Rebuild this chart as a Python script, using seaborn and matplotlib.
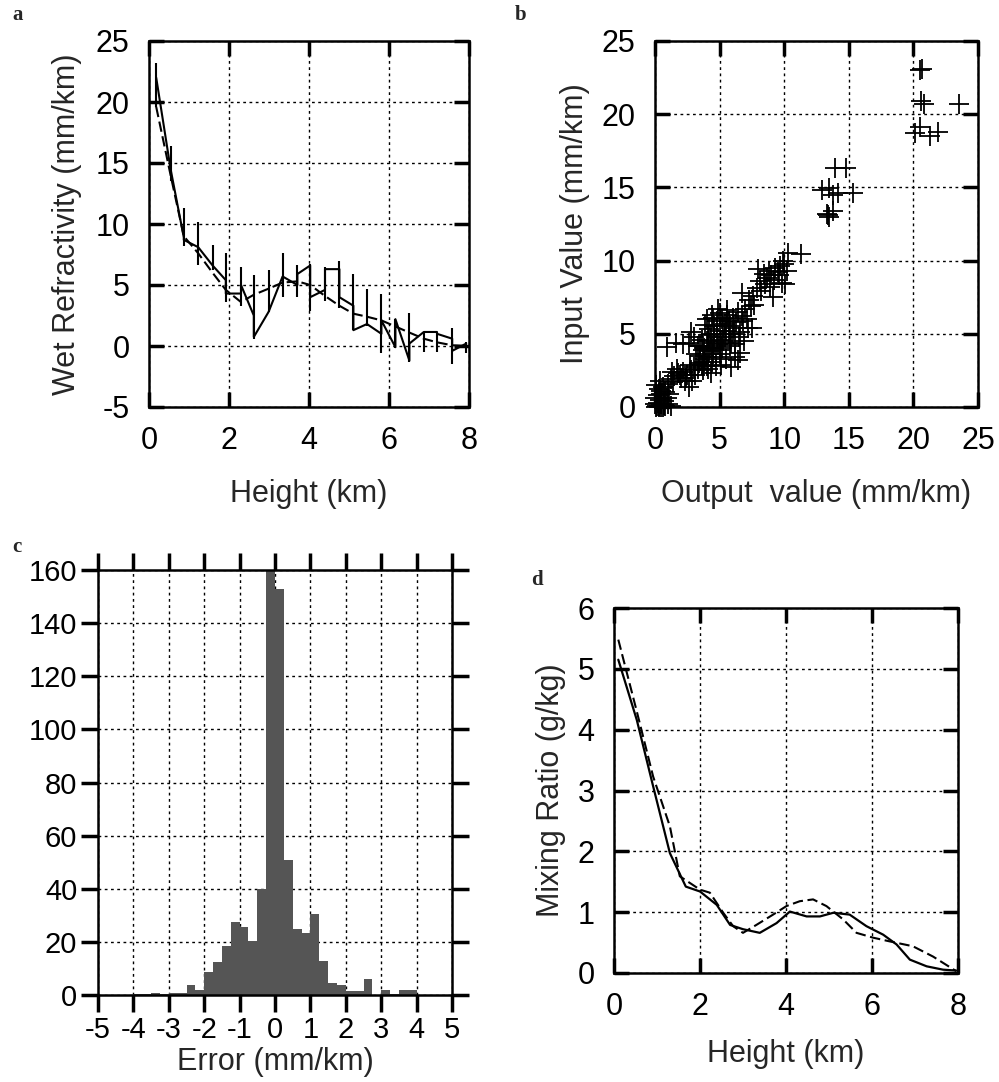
import numpy as np
import pandas as pd
import matplotlib
matplotlib.use("Agg")
import matplotlib.pyplot as plt
import seaborn as sns

# ---- panel a: wet refractivity profile ----
a_height = [0.18, 0.54, 0.87, 1.23, 1.59, 1.92, 2.30, 2.62, 2.99, 3.34, 3.71, 4.03,
            4.40, 4.76, 5.11, 5.45, 5.81, 6.16, 6.51, 6.87, 7.20, 7.58, 7.93]
a_ret_in = [22.0, 14.5, 8.9, 8.1, 6.6, 5.4, 4.3, 2.5, 2.8, 5.7, 5.0, 6.6,
            4.6, 6.3, 3.3, 1.8, 1.0, -0.1, -1.2, 1.15, 1.15, 0.6, 0.2]
a_ret_out = [22.0, 14.5, 8.7, 8.1, 6.6, 4.3, 5.0, 0.74, 2.8, 5.7, 5.9, 4.0,
             6.3, 4.0, 1.3, 1.8, 2.1, 2.2, 0.2, 1.15, 1.0, -0.4, 0.2]
a_err_lo = [19.6, 13.5, 8.2, 6.6, 6.2, 3.6, 3.3, 0.6, 2.8, 4.0, 4.0, 2.9,
            3.7, 3.1, 1.3, 1.6, -0.6, -0.2, -1.3, -0.5, -0.5, -1.5, -0.6]
a_err_hi = [23.2, 16.4, 11.3, 10.2, 8.3, 7.6, 6.5, 5.8, 6.2, 7.6, 6.65, 6.7,
            6.5, 7.0, 5.9, 4.7, 4.3, 2.2, 2.7, 1.15, 1.15, 1.5, 0.33]
a_true = [19.6, 14.0, 9.0, 7.6, 6.0, 4.6, 3.6, 4.2, 4.7, 5.2, 5.3, 5.0,
          4.1, 3.3, 2.65, 2.4, 2.1, 1.6, 1.1, 0.6, 0.3, 0.06, 0.0]

# ---- panel b: input vs output scatter ----
b_output = [0.1, 0.2, 0.3, 0.4, 0.5, 0.6, 0.7, 0.8, 0.2, 0.3, 0.1, 0.5, 0.9, 1.0, 1.2, 0.4,
            0.6, 1.1, 0.0, 0.3, 0.0, 0.15, 0.45, 0.7,
            1.2, 1.5, 1.8, 2.0, 2.2, 2.5, 2.8, 3.0, 3.3, 3.6, 1.0, 1.4, 2.6, 2.9, 3.1, 3.8,
            4.0, 1.7, 2.3,
            0.9, 1.6, 2.2, 2.6, 3.0, 3.3, 2.8,
            3.5, 3.8, 4.0, 4.2, 4.3, 4.5, 4.6, 4.8, 5.0, 5.0, 5.2, 5.3, 5.4, 5.5, 5.6, 5.7,
            5.8, 6.0, 6.1, 6.2, 6.4, 6.5, 6.6, 6.8, 7.0, 7.2, 7.5, 4.1, 4.4, 4.7, 3.9, 4.4,
            4.9, 5.1, 5.9, 6.4, 4.5, 5.2, 4.0, 3.7, 4.8, 5.5, 6.3, 4.2, 4.6, 5.4, 5.8, 3.6,
            4.3, 5.0, 6.7, 6.9,
            3.4, 3.9, 4.1, 4.6, 4.9, 5.3, 5.6, 6.0, 4.3, 4.7, 5.1, 5.7, 3.7, 4.5, 5.9, 6.2,
            2.4, 2.7, 3.2, 3.5, 1.9, 1.3, 0.8, 0.5, 5.0, 6.6, 7.1, 4.0,
            6.7, 7.3, 7.6, 7.9, 8.2, 8.0, 8.5, 8.7, 8.9, 9.0, 9.2, 9.3, 9.5, 9.7, 9.8, 10.0,
            10.2, 10.3, 11.3, 9.1, 7.7, 8.4, 9.9, 10.1, 7.4, 8.1, 8.8, 9.6,
            13.9, 14.8, 12.9, 13.5, 13.8, 14.2, 15.3, 13.3, 13.5, 13.8, 13.4,
            20.5, 20.7, 20.6, 20.8, 23.5, 20.1, 20.5, 21.3, 21.9]
b_input = [0.0, 0.3, 0.1, 0.5, 0.2, 0.0, 0.4, 0.1, 0.8, 1.2, 1.5, 0.9, 0.6, 0.2, 0.1, 1.8,
           1.4, 0.9, 0.6, 0.0, 0.2, 0.05, 0.0, 0.15,
           1.9, 2.1, 2.3, 2.0, 2.4, 2.2, 2.5, 2.7, 2.6, 2.9, 1.6, 1.7, 1.4, 1.8, 2.2, 3.1,
           2.8, 2.6, 1.8,
           4.1, 4.4, 4.3, 4.4, 4.8, 4.2, 5.1,
           3.5, 4.0, 4.5, 3.8, 5.0, 4.2, 5.5, 4.8, 5.2, 3.9, 6.0, 4.5, 5.7, 3.3, 6.3, 5.0,
           4.2, 6.1, 5.4, 3.4, 6.5, 4.8, 3.7, 5.9, 6.7, 5.4, 5.4, 2.6, 3.1, 2.8, 5.6, 6.3,
           6.7, 2.9, 2.7, 3.2, 3.6, 4.0, 3.4, 2.5, 5.9, 5.2, 5.8, 5.3, 4.4, 4.8, 5.5, 4.6,
           2.3, 6.4, 6.2, 4.5,
           3.0, 3.3, 4.9, 5.0, 4.3, 5.5, 6.6, 5.0, 4.0, 3.4, 4.6, 5.9, 3.9, 6.1, 4.4, 4.3,
           2.0, 2.9, 3.6, 4.2, 2.2, 2.4, 1.0, 1.1, 3.6, 5.1, 6.0, 6.0,
           7.8, 7.3, 7.6, 8.1, 7.9, 9.4, 8.4, 8.8, 8.2, 9.0, 8.7, 9.5, 9.2, 9.6, 8.5, 9.8,
           9.3, 10.5, 10.45, 7.5, 7.0, 9.1, 10.0, 8.4, 6.9, 8.6, 9.3, 9.0,
           16.3, 16.3, 14.85, 14.95, 14.5, 14.6, 14.6, 13.2, 13.0, 13.4, 13.1,
           23.0, 23.1, 20.9, 20.7, 20.7, 18.75, 19.1, 18.5, 18.8]

# ---- panel c: error histogram (bin width 0.25 from -5 to 5) ----
c_centers = np.arange(-4.875, 5.0, 0.25)
c_counts = [0, 0, 0, 0, 0.5, 0.5, 0.8, 0.5, 0.8, 0.8,
            3.8, 2.0, 8.5, 12.5, 18.4, 27.6, 25.5, 20.5, 40, 160,
            153, 51, 25, 23.5, 30.4, 12.8, 4.6, 3.8, 1.5, 1.5,
            5.9, 0, 1.9, 0.5, 1.9, 1.9, 0, 0, 0, 0]

# ---- panel d: mixing ratio profiles ----
d_h_ret = [0.10, 0.53, 0.91, 1.30, 1.67, 2.0, 2.39, 2.7, 3.0, 3.39, 3.78, 4.09, 4.48,
           4.79, 5.1, 5.48, 5.87, 6.26, 6.57, 6.88, 7.27, 7.65, 7.96]
d_ret = [5.15, 4.16, 3.07, 1.97, 1.42, 1.34, 1.12, 0.79, 0.72, 0.66, 0.82, 1.01, 0.93,
         0.93, 0.99, 0.96, 0.77, 0.63, 0.47, 0.22, 0.11, 0.055, 0.04]
d_h_true = [0.10, 0.53, 0.91, 1.30, 1.53, 2.0, 2.23, 2.54, 2.77, 3.0, 3.31, 3.70, 4.01,
            4.32, 4.63, 4.94, 5.33, 5.64, 6.03, 6.41, 6.95, 7.42, 7.96]
d_true = [5.48, 4.3, 3.23, 2.41, 1.59, 1.37, 1.32, 0.99, 0.77, 0.66, 0.79, 0.96, 1.10,
          1.18, 1.21, 1.10, 0.88, 0.66, 0.58, 0.52, 0.44, 0.27, 0.03]

sns.set_theme(style="white")
plt.rcParams["font.family"] = ["Liberation Sans", "DejaVu Sans"]
plt.rcParams["axes.unicode_minus"] = False

fig = plt.figure(figsize=(9.99, 10.82), dpi=100)
W, H = 999, 1082


def add_ax(l, t, r, b):
    return fig.add_axes([l / W, 1 - b / H, (r - l) / W, (b - t) / H])


def frame(ax, inward=True, pad=14, length=11):
    for s in ax.spines.values():
        s.set_visible(True)
        s.set_linewidth(1.8)
        s.set_color("black")
    ax.tick_params(direction="in" if inward else "out", length=length, width=2.5,
                   top=True, right=True, bottom=True, left=True,
                   labelsize=22, pad=pad, colors="black")
    ax.grid(True, color="black", linestyle=(0, (2, 2.5)), linewidth=1.0)
    ax.set_axisbelow(True)


dash = (0, (5, 2.2))

# a
ax = add_ax(149, 41, 469, 407)
path_x = np.repeat(a_height, 2)
path_y = np.column_stack([a_ret_in, a_ret_out]).ravel()
sns.lineplot(x=path_x, y=path_y, sort=False, estimator=None, color="black", lw=1.5, ax=ax)
ax.vlines(a_height, a_err_lo, a_err_hi, color="black", lw=1.5)
sns.lineplot(x=a_height, y=a_true, color="black", lw=1.5, linestyle=dash, ax=ax)
ax.set_xlim(0, 8)
ax.set_ylim(-5, 25)
ax.set_xticks(range(0, 9, 2))
ax.set_yticks(range(-5, 26, 5))
frame(ax)
ax.set_xlabel("Height (km)", fontsize=22, labelpad=16)
ax.set_ylabel("Wet Refractivity (mm/km)", fontsize=22, labelpad=10)

# b
ax = add_ax(655, 41, 978, 407)
sns.scatterplot(x=b_output, y=b_input, marker="+", s=210, color="black",
                linewidth=1.3, clip_on=False, ax=ax)
ax.set_xlim(0, 25)
ax.set_ylim(0, 25)
ax.set_xticks(range(0, 26, 5))
ax.set_yticks(range(0, 26, 5))
frame(ax)
ax.set_xlabel("Output  value (mm/km)", fontsize=22, labelpad=16)
ax.set_ylabel("Input Value (mm/km)", fontsize=22, labelpad=8)

# c
ax = add_ax(98, 570, 452, 995)
hist_df = pd.DataFrame({"error": c_centers, "count": c_counts})
sns.histplot(data=hist_df, x="error", weights="count", binwidth=0.25, binrange=(-5, 5),
             color="#555555", edgecolor="none", linewidth=0, alpha=1, ax=ax)
ax.set_xlim(-5, 5)
ax.set_ylim(0, 160)
ax.set_xticks(range(-5, 6, 1))
ax.set_yticks(range(0, 161, 20))
frame(ax, inward=False, pad=3, length=12)
ax.tick_params(labelsize=21)
ax.set_xlabel("Error (mm/km)", fontsize=22, labelpad=2)
ax.set_ylabel("")

# d
ax = add_ax(614, 608, 958, 973)
sns.lineplot(x=d_h_ret, y=d_ret, color="black", lw=1.6, ax=ax)
sns.lineplot(x=d_h_true, y=d_true, color="black", lw=1.5, linestyle=dash, ax=ax)
ax.set_xlim(0, 8)
ax.set_ylim(0, 6)
ax.set_xticks(range(0, 9, 2))
ax.set_yticks(range(0, 7, 1))
frame(ax)
ax.set_xlabel("Height (km)", fontsize=22, labelpad=12)
ax.set_ylabel("Mixing Ratio (g/kg)", fontsize=22, labelpad=8)

for lab, x, y in [("a", 12, 20), ("b", 515, 20), ("c", 12, 552), ("d", 531, 585)]:
    fig.text(x / W, 1 - y / H, lab, fontsize=15, fontweight="bold",
             family="Liberation Serif", ha="left", va="baseline")

fig.savefig("out.png", dpi=100)
